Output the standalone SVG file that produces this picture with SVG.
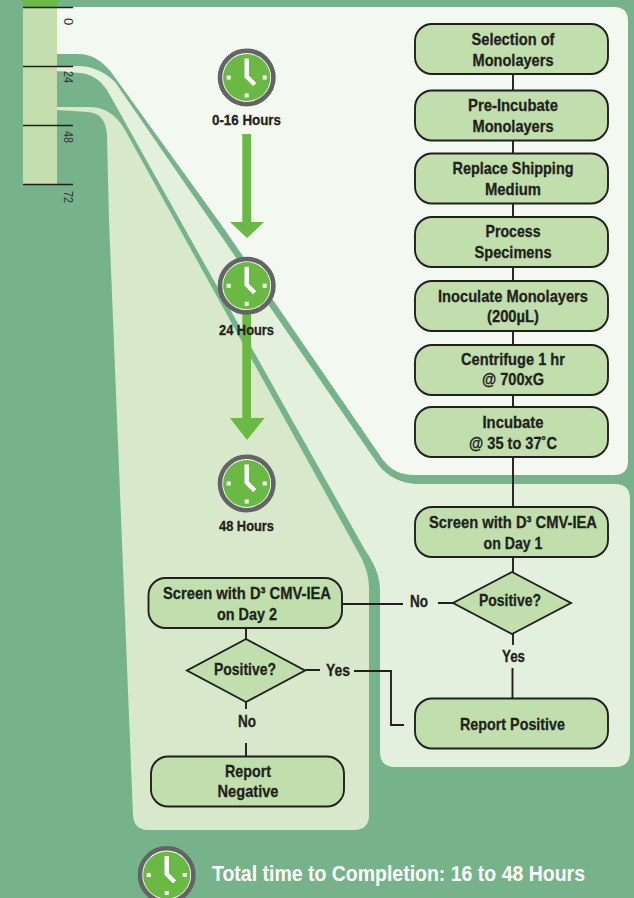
<svg xmlns="http://www.w3.org/2000/svg" width="634" height="898" viewBox="0 0 634 898" xmlns:xlink="http://www.w3.org/1999/xlink">
<style>
text{font-family:"Liberation Sans",Arial,sans-serif;font-weight:700;fill:#231f20;text-anchor:middle}
.t{font-size:17px;stroke:#231f20;stroke-width:.3}
.h{font-size:15.500px;stroke:#231f20;stroke-width:.3}
.tick{font-size:13px;font-weight:400;fill:#333}
.box{fill:#c0dfac;stroke:#231f20;stroke-width:1.9}
.line{fill:none;stroke:#231f20;stroke-width:1.9}
.tk{stroke:#231f20;stroke-width:1.5}
.ar{fill:#6ab944}
</style>
<defs>
<g id="clock">
<circle r="26.7" fill="#fff" stroke="#636466" stroke-width="4.6"/>
<circle r="23.6" fill="#6ab944"/>
<path d="M0 -19V-1L8 7" fill="none" stroke="#fff" stroke-width="4.4"/>
<path d="M-20 -2h4v4h-4zM16 -2h4v4h-4zM-2 16h4v4h-4z" fill="#fff"/>
</g>
</defs>
<rect width="634" height="898" fill="#76b38a"/>
<g id="panels">
<path d="M57 66H78C92 66 105 72 115 82L217 230L375 460C384 474 398 484 420 484H615Q630 484 630 499V752Q630 767 615 767H395Q380 767 380 752V590C380 574 373 562 365 550L107 90C100 80 92 74 80 73L57 71Z" fill="#e4f0de"/>
<path d="M57 107H88C102 107 115 112 125 130L357 550C364 562 369 574 369 588V815Q369 830 354 830H148Q134 830 133 815L109 220L107 135C106 120 100 113 88 112L57 110Z" fill="#d8e9cb"/>
<path d="M57 7H614Q628 7 628 21V461Q628 475 614 475H415C400 475 391 470 383 460L225 230L111 72C102 61 92 54 78 54H57Z" fill="#f3f9f1"/>
</g>
<g id="timeline">
<rect x="23" y="0" width="34" height="185" fill="#c4dfad"/>
<rect x="23" y="0" width="34" height="7" fill="#6ab944"/>
<path class="tk" d="M23 7.500H73M23 66.500H73M23 125.500H73M23 184.500H73"/>
<text class="tick" transform="translate(63.500 21.500) rotate(90)">0</text>
<text class="tick" transform="translate(63.500 77) rotate(90)" textLength="12" lengthAdjust="spacingAndGlyphs">24</text>
<text class="tick" transform="translate(63.500 137) rotate(90)" textLength="12" lengthAdjust="spacingAndGlyphs">48</text>
<text class="tick" transform="translate(63.500 197) rotate(90)" textLength="12" lengthAdjust="spacingAndGlyphs">72</text>
</g>
<g id="time-arrows">
<path class="ar" d="M242.300 134H251V222H264L247 238L230 222H242.300Z"/>
<path class="ar" d="M242.300 300H251V418H264.500L247 440L230 418H242.300Z"/>
</g>
<g id="clock-0"><use xlink:href="#clock" href="#clock" x="246.700" y="77.500"/><text class="h" x="246.500" y="124.500" textLength="69" lengthAdjust="spacingAndGlyphs">0-16 Hours</text></g>
<g id="clock-24"><use xlink:href="#clock" href="#clock" x="246.700" y="285.700"/><text class="h" x="246.500" y="335" textLength="55" lengthAdjust="spacingAndGlyphs">24 Hours</text></g>
<g id="clock-48"><use xlink:href="#clock" href="#clock" x="246.700" y="483.500"/><text class="h" x="246.500" y="531" textLength="55" lengthAdjust="spacingAndGlyphs">48 Hours</text></g>
<g id="connectors">
<path class="line" d="M513 74V507M513 557V572M513 634V645M512.500 668V698"/>
<path class="line" d="M342 604H403M438 603H453"/>
<path class="line" d="M305 670H320M354 671H391V725H404"/>
<path class="line" d="M246 628V639M246 702V709M246 743V756"/>
</g>
<g id="n1"><rect class="box" x="415" y="24" width="193" height="50" rx="17"/><text class="t" x="513" y="44.500" textLength="83" lengthAdjust="spacingAndGlyphs">Selection of</text><text class="t" x="513" y="65.500" textLength="81" lengthAdjust="spacingAndGlyphs">Monolayers</text></g>
<g id="n2"><rect class="box" x="415" y="90.500" width="193" height="50" rx="17"/><text class="t" x="513" y="110.500" textLength="90" lengthAdjust="spacingAndGlyphs">Pre-Incubate</text><text class="t" x="513" y="131.500" textLength="81" lengthAdjust="spacingAndGlyphs">Monolayers</text></g>
<g id="n3"><rect class="box" x="415" y="153.500" width="193" height="50" rx="17"/><text class="t" x="513" y="174" textLength="121" lengthAdjust="spacingAndGlyphs">Replace Shipping</text><text class="t" x="513" y="194.500" textLength="56" lengthAdjust="spacingAndGlyphs">Medium</text></g>
<g id="n4"><rect class="box" x="415" y="217" width="193" height="50" rx="17"/><text class="t" x="513" y="237" textLength="55" lengthAdjust="spacingAndGlyphs">Process</text><text class="t" x="513" y="258" textLength="77" lengthAdjust="spacingAndGlyphs">Specimens</text></g>
<g id="n5"><rect class="box" x="415" y="281" width="193" height="50" rx="17"/><text class="t" x="513" y="302" textLength="150" lengthAdjust="spacingAndGlyphs">Inoculate Monolayers</text><text class="t" x="513" y="322" textLength="52" lengthAdjust="spacingAndGlyphs">(200µL)</text></g>
<g id="n6"><rect class="box" x="415" y="345" width="193" height="50" rx="17"/><text class="t" x="513" y="364.500" textLength="104" lengthAdjust="spacingAndGlyphs">Centrifuge 1 hr</text><text class="t" x="513" y="385" textLength="62" lengthAdjust="spacingAndGlyphs">@ 700xG</text></g>
<g id="n7"><rect class="box" x="415" y="407" width="193" height="50" rx="17"/><text class="t" x="513" y="428" textLength="61" lengthAdjust="spacingAndGlyphs">Incubate</text><text class="t" x="513" y="449" textLength="88" lengthAdjust="spacingAndGlyphs">@ 35 to 37˚C</text></g>
<g id="n8"><rect class="box" x="415" y="507" width="193" height="50" rx="17"/><text class="t" x="513" y="528" textLength="168" lengthAdjust="spacingAndGlyphs">Screen with D³ CMV-IEA</text><text class="t" x="513" y="549" textLength="59" lengthAdjust="spacingAndGlyphs">on Day 1</text></g>
<g id="d1"><path class="box" d="M512 572L571 603L512 634L453 603Z"/><text class="t" x="510" y="606" textLength="62" lengthAdjust="spacingAndGlyphs">Positive?</text></g>
<g id="n9"><rect class="box" x="415" y="698.500" width="193" height="50" rx="17"/><text class="t" x="512.500" y="730" textLength="105" lengthAdjust="spacingAndGlyphs">Report Positive</text></g>
<g id="n10"><rect class="box" x="148.500" y="578" width="193.500" height="50" rx="17"/><text class="t" x="247" y="599" textLength="168" lengthAdjust="spacingAndGlyphs">Screen with D³ CMV-IEA</text><text class="t" x="247" y="620" textLength="60" lengthAdjust="spacingAndGlyphs">on Day 2</text></g>
<g id="d2"><path class="box" d="M246 639L305 670.500L246 702L187 670.500Z"/><text class="t" x="245" y="675" textLength="62" lengthAdjust="spacingAndGlyphs">Positive?</text></g>
<g id="n11"><rect class="box" x="151" y="756.500" width="193" height="50" rx="17"/><text class="t" x="248" y="776.500" textLength="46" lengthAdjust="spacingAndGlyphs">Report</text><text class="t" x="248" y="797" textLength="61" lengthAdjust="spacingAndGlyphs">Negative</text></g>
<g id="labels">
<text class="t" x="419" y="607" textLength="18" lengthAdjust="spacingAndGlyphs">No</text>
<text class="t" x="513.500" y="662" textLength="23" lengthAdjust="spacingAndGlyphs">Yes</text>
<text class="t" x="338" y="676" textLength="24" lengthAdjust="spacingAndGlyphs">Yes</text>
<text class="t" x="247" y="727" textLength="18" lengthAdjust="spacingAndGlyphs">No</text>
</g>
<g id="total"><use xlink:href="#clock" href="#clock" x="166.700" y="875"/><text x="398.500" y="881" font-size="22" style="fill:#fff" textLength="373" lengthAdjust="spacingAndGlyphs">Total time to Completion: 16 to 48 Hours</text></g>
</svg>
